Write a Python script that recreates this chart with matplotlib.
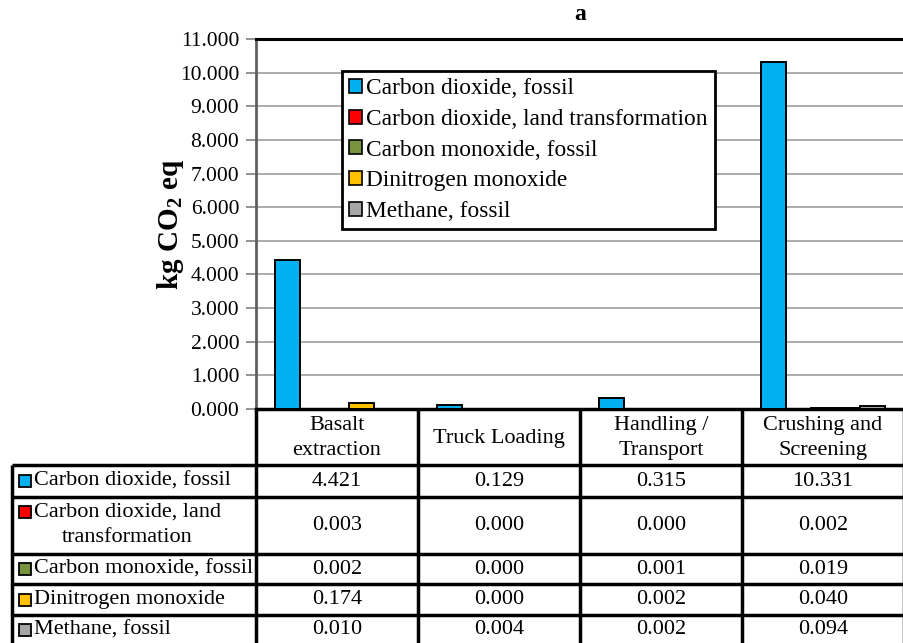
import numpy as np
import matplotlib.pyplot as plt
from matplotlib.patches import Rectangle

plt.rcParams['font.family'] = ['Liberation Serif', 'DejaVu Serif']
plt.rcParams['mathtext.fontset'] = 'custom'
plt.rcParams['mathtext.rm'] = 'Liberation Serif'
plt.rcParams['mathtext.bf'] = 'Liberation Serif:bold'

# process stages and emission contributions (kg CO2 eq)
stages = ['Basalt\nextraction', 'Truck Loading', 'Handling /\nTransport', 'Crushing and\nScreening']
gases = ['Carbon dioxide, fossil', 'Carbon dioxide, land transformation',
         'Carbon monoxide, fossil', 'Dinitrogen monoxide', 'Methane, fossil']
co2_fossil = [4.421, 0.129, 0.315, 10.331]
co2_land = [0.003, 0.000, 0.000, 0.002]
co_fossil = [0.002, 0.000, 0.001, 0.019]
n2o = [0.174, 0.000, 0.002, 0.040]
ch4_fossil = [0.010, 0.004, 0.002, 0.094]
series = [co2_fossil, co2_land, co_fossil, n2o, ch4_fossil]
colors = ['#00B0F0', '#FF0000', '#77933C', '#FFC000', '#A6A6A6']

W, H = 904, 643
fig = plt.figure(figsize=(W / 100, H / 100), dpi=100)

# plot area in pixel units
x0, x1, y_top, y_zero = 256, 904, 39, 409
ax = fig.add_axes([x0 / W, 1 - y_zero / H, (x1 - x0) / W, (y_zero - y_top) / H])

bw = 0.154
x = np.arange(len(stages))
for i, (vals, c, name) in enumerate(zip(series, colors, gases)):
    ax.bar(x + (i - 2) * bw, vals, bw, color=c, edgecolor='black', linewidth=1.4,
           label=name, zorder=3)

ax.set_xlim(-0.5, len(stages) - 0.5)
ax.set_ylim(0, 11)
ax.set_yticks(np.arange(0, 12, 1))
ax.set_yticklabels([f'{v:.3f}' for v in np.arange(0, 12, 1)], fontsize=15.5)
ax.set_xticks([])
ax.tick_params(axis='y', length=7, width=1.2, color='#808080', pad=5)
ax.grid(axis='y', color='#A6A6A6', linewidth=1.3, zorder=0)
ax.spines['top'].set_linewidth(2.2)
ax.spines['top'].set_color('black')
ax.spines['right'].set_visible(False)
ax.spines['bottom'].set_linewidth(2.5)
ax.spines['left'].set_color('#606060')
ax.spines['left'].set_linewidth(2)
ax.set_ylabel(r'kg CO$_\mathbf{2}$ eq', fontsize=21, fontweight='bold')
ax.yaxis.set_label_coords((186 - x0) / (x1 - x0), 0.5)

leg = ax.legend(loc='upper left', bbox_to_anchor=(342 / W, 1 - 71 / H),
                bbox_transform=fig.transFigure, fontsize=16.8, frameon=True,
                fancybox=False, edgecolor='black', framealpha=1,
                handlelength=0.55, handleheight=0.55, handletextpad=0.2,
                labelspacing=0.42, borderpad=0.3, borderaxespad=0)
leg.get_frame().set_linewidth(2)
leg.get_frame().set_facecolor('white')
leg.set_zorder(5)
for h in leg.legend_handles:
    h.set_linewidth(1.2)

fig.text(580 / W, 1 - 15 / H, 'a', ha='center', va='center',
         fontsize=17, fontweight='bold')

# data table under the chart, drawn in pixel coordinates
tab = fig.add_axes([0, 0, 1, 1])
tab.set_xlim(0, W)
tab.set_ylim(H, 0)
tab.axis('off')

col_edges = [256, 418, 580, 742, 904]
row_edges = [465, 497, 554, 584, 615, 660]
lw = 2.5
for xe in col_edges:
    tab.plot([xe, xe], [y_zero, H], color='black', lw=lw, solid_capstyle='butt')
tab.plot([12, 12], [row_edges[0], H], color='black', lw=lw, solid_capstyle='butt')
for ye in row_edges[:-1]:
    tab.plot([12, 904], [ye, ye], color='black', lw=lw, solid_capstyle='butt')

for j, name in enumerate(stages):
    cx = (col_edges[j] + col_edges[j + 1]) / 2
    tab.text(cx, (y_zero + row_edges[0]) / 2 + 1, name, ha='center', va='center',
             fontsize=16, linespacing=1.4)

row_labels = ['Carbon dioxide, fossil', 'Carbon dioxide, land\ntransformation',
              'Carbon monoxide, fossil', 'Dinitrogen monoxide', 'Methane, fossil']
for i, (vals, c, lab) in enumerate(zip(series, colors, row_labels)):
    ya, yb = row_edges[i], row_edges[i + 1]
    cy = (ya + yb) / 2 if i < 4 else 630
    first_y = cy if '\n' not in lab else ya + 15
    tab.add_patch(Rectangle((19, first_y - 6), 12, 12, facecolor=c,
                            edgecolor='black', lw=1.3))
    lines = lab.split('\n')
    tab.text(34, first_y, lines[0], ha='left', va='center', fontsize=16)
    if len(lines) > 1:
        tab.text(127, first_y + 25, lines[1], ha='center', va='center', fontsize=16)
    for j, v in enumerate(vals):
        cx = (col_edges[j] + col_edges[j + 1]) / 2
        tab.text(cx, cy, f'{v:.3f}', ha='center', va='center', fontsize=16)

fig.savefig('out.png', dpi=100)
